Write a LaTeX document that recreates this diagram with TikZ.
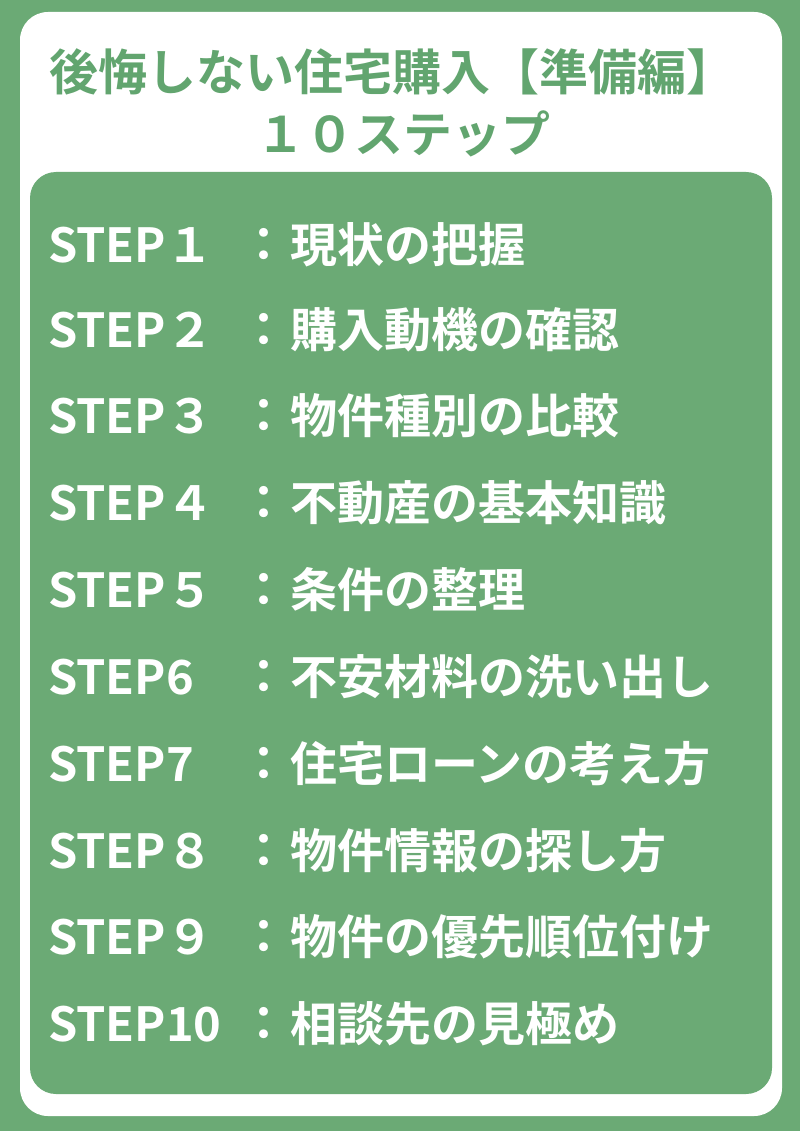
\documentclass[tikz,border=0pt]{standalone}
\usepackage{fontspec}
\newfontfamily\jp{Noto Sans CJK JP}[BoldFont=* Bold]
\definecolor{gbg}{HTML}{6BAA75}
\definecolor{gtitle}{HTML}{62A56F}
\begin{document}
\begin{tikzpicture}[x=1pt,y=-1pt,
  steplab/.style={anchor=west,text=white,font=\jp\bfseries\fontsize{47}{50}\selectfont,inner sep=0pt},
  ttl/.style={text=gtitle,font=\jp\bfseries\fontsize{49}{52}\selectfont,inner sep=0pt}]
\useasboundingbox (0,0) rectangle (800,1131);
\fill[gbg] (0,0) rectangle (800,1131);
\fill[white,rounded corners=28pt] (20,12) rectangle (782,1116);
\fill[gbg,rounded corners=26pt] (30,172) rectangle (772,1094);
\node[ttl] (t1) at (392,72) {後悔しない住宅購入【準備編】};
\node[ttl] (t2) at (403,134) {１０ステップ};
\foreach \y/\s/\t [count=\i] in {
 245/STEP１/現状の把握,
 330/STEP２/購入動機の確認,
 416/STEP３/物件種別の比較,
 503/STEP４/不動産の基本知識,
 590/STEP５/条件の整理,
 677/STEP6/不安材料の洗い出し,
 764/STEP7/住宅ローンの考え方,
 851/STEP８/物件情報の探し方,
 937/STEP９/物件の優先順位付け,
 1024/STEP10/相談先の見極め}{
  \node[steplab] (s\i) at (48,\y) {\s};
  \node[steplab] (c\i) at (240,\y) {：};
  \node[steplab] (d\i) at (290,\y) {\t};
}
\end{tikzpicture}
\end{document}
